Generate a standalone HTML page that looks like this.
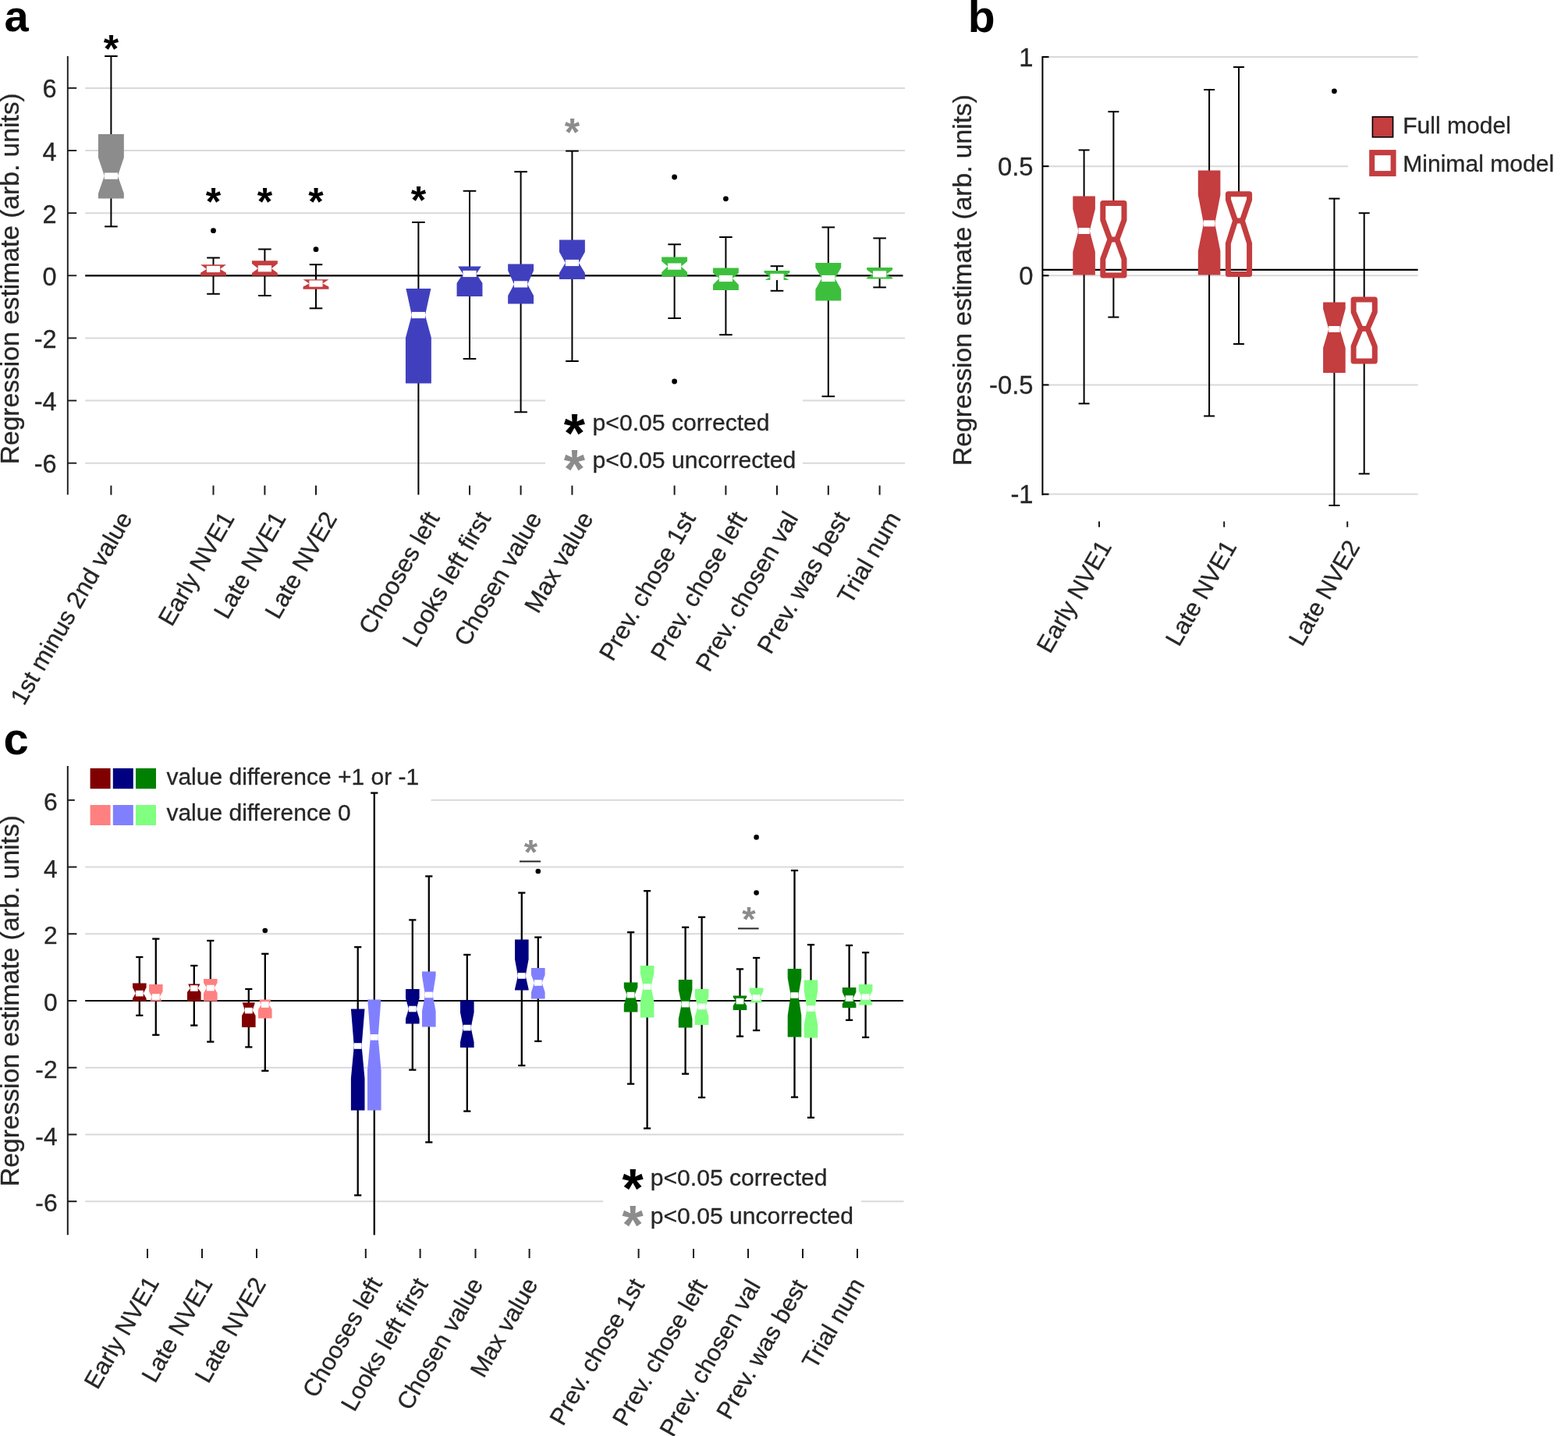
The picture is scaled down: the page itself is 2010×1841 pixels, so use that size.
<!DOCTYPE html>
<html lang="en">
<head>
<meta charset="utf-8">
<title>Regression estimates</title>
<style>
html,body{margin:0;padding:0;background:#fff;}
body{width:2010px;height:1841px;overflow:hidden;}
svg{display:block;}
text{font-family:"Liberation Sans",sans-serif;}
</style>
</head>
<body>
<svg width="2010" height="1841" viewBox="0 0 2010 1841" role="img" aria-label="Box plots of regression estimates, panels a, b and c">
<rect x="0" y="0" width="2010" height="1841" fill="#fff"/>
<g id="panel-a">
<line x1="109.20" y1="112.88" x2="1160.00" y2="112.88" stroke="#d9d9d9" stroke-width="2" />
<line x1="109.20" y1="193.02" x2="1160.00" y2="193.02" stroke="#d9d9d9" stroke-width="2" />
<line x1="109.20" y1="273.16" x2="1160.00" y2="273.16" stroke="#d9d9d9" stroke-width="2" />
<line x1="109.20" y1="433.44" x2="1160.00" y2="433.44" stroke="#d9d9d9" stroke-width="2" />
<line x1="109.20" y1="513.58" x2="1160.00" y2="513.58" stroke="#d9d9d9" stroke-width="2" />
<line x1="109.20" y1="593.72" x2="1160.00" y2="593.72" stroke="#d9d9d9" stroke-width="2" />
<rect x="699.00" y="500.00" width="330.00" height="120.00" fill="#fff" stroke="none" stroke-width="0" />
<line x1="109.20" y1="353.30" x2="1157.50" y2="353.30" stroke="#000" stroke-width="2.2" />
<line x1="86.80" y1="72.00" x2="86.80" y2="634.30" stroke="#1a1a1a" stroke-width="1.9" />
<line x1="86.80" y1="112.88" x2="98.20" y2="112.88" stroke="#1a1a1a" stroke-width="1.9" />
<text x="72.70" y="125.48" font-size="32.5" text-anchor="end" fill="#262626" font-weight="normal" stroke="#262626" stroke-width="0.3" >6</text>
<line x1="86.80" y1="193.02" x2="98.20" y2="193.02" stroke="#1a1a1a" stroke-width="1.9" />
<text x="72.70" y="205.62" font-size="32.5" text-anchor="end" fill="#262626" font-weight="normal" stroke="#262626" stroke-width="0.3" >4</text>
<line x1="86.80" y1="273.16" x2="98.20" y2="273.16" stroke="#1a1a1a" stroke-width="1.9" />
<text x="72.70" y="285.76" font-size="32.5" text-anchor="end" fill="#262626" font-weight="normal" stroke="#262626" stroke-width="0.3" >2</text>
<line x1="86.80" y1="353.30" x2="98.20" y2="353.30" stroke="#1a1a1a" stroke-width="1.9" />
<text x="72.70" y="365.90" font-size="32.5" text-anchor="end" fill="#262626" font-weight="normal" stroke="#262626" stroke-width="0.3" >0</text>
<line x1="86.80" y1="433.44" x2="98.20" y2="433.44" stroke="#1a1a1a" stroke-width="1.9" />
<text x="72.70" y="446.04" font-size="32.5" text-anchor="end" fill="#262626" font-weight="normal" stroke="#262626" stroke-width="0.3" >-2</text>
<line x1="86.80" y1="513.58" x2="98.20" y2="513.58" stroke="#1a1a1a" stroke-width="1.9" />
<text x="72.70" y="526.18" font-size="32.5" text-anchor="end" fill="#262626" font-weight="normal" stroke="#262626" stroke-width="0.3" >-4</text>
<line x1="86.80" y1="593.72" x2="98.20" y2="593.72" stroke="#1a1a1a" stroke-width="1.9" />
<text x="72.70" y="606.32" font-size="32.5" text-anchor="end" fill="#262626" font-weight="normal" stroke="#262626" stroke-width="0.3" >-6</text>
<text x="24.40" y="357.30" font-size="33.6" text-anchor="middle" fill="#262626" font-weight="normal" stroke="#262626" stroke-width="0.3" transform="rotate(-90 24.40 357.30)" >Regression estimate (arb. units)</text>
<text x="5.40" y="40.40" font-size="56" text-anchor="start" fill="#000" font-weight="bold" >a</text>
<line x1="142.40" y1="72.00" x2="142.40" y2="173.00" stroke="#000" stroke-width="2.0" />
<line x1="142.40" y1="253.40" x2="142.40" y2="290.40" stroke="#000" stroke-width="2.0" />
<line x1="134.10" y1="72.00" x2="150.70" y2="72.00" stroke="#000" stroke-width="2.0" />
<line x1="134.10" y1="290.40" x2="150.70" y2="290.40" stroke="#000" stroke-width="2.0" />
<polygon points="125.95,254.40 125.95,248.00 133.80,225.60 125.95,202.00 125.95,172.00 158.85,172.00 158.85,202.00 151.00,225.60 158.85,248.00 158.85,254.40" fill="#8c8c8c"/>
<rect x="133.80" y="221.50" width="17.20" height="8.20" fill="#fff" stroke="none" stroke-width="0" />
<line x1="273.50" y1="330.50" x2="273.50" y2="340.20" stroke="#000" stroke-width="2.0" />
<line x1="273.50" y1="352.60" x2="273.50" y2="376.80" stroke="#000" stroke-width="2.0" />
<line x1="265.20" y1="330.50" x2="281.80" y2="330.50" stroke="#000" stroke-width="2.0" />
<line x1="265.20" y1="376.80" x2="281.80" y2="376.80" stroke="#000" stroke-width="2.0" />
<polygon points="257.05,353.60 257.05,349.80 264.90,345.00 257.05,339.20 257.05,339.20 289.95,339.20 289.95,339.20 282.10,345.00 289.95,349.80 289.95,353.60" fill="#c43d3f"/>
<rect x="264.90" y="340.90" width="17.20" height="8.20" fill="#fff" stroke="none" stroke-width="0" />
<circle cx="273.50" cy="295.70" r="3.4" fill="#000"/>
<line x1="339.40" y1="319.50" x2="339.40" y2="335.20" stroke="#000" stroke-width="2.0" />
<line x1="339.40" y1="352.40" x2="339.40" y2="379.00" stroke="#000" stroke-width="2.0" />
<line x1="331.10" y1="319.50" x2="347.70" y2="319.50" stroke="#000" stroke-width="2.0" />
<line x1="331.10" y1="379.00" x2="347.70" y2="379.00" stroke="#000" stroke-width="2.0" />
<polygon points="322.95,353.40 322.95,350.00 330.80,344.30 322.95,338.00 322.95,334.20 355.85,334.20 355.85,338.00 348.00,344.30 355.85,350.00 355.85,353.40" fill="#c43d3f"/>
<rect x="330.80" y="340.20" width="17.20" height="8.20" fill="#fff" stroke="none" stroke-width="0" />
<line x1="405.00" y1="339.20" x2="405.00" y2="359.30" stroke="#000" stroke-width="2.0" />
<line x1="405.00" y1="369.80" x2="405.00" y2="395.30" stroke="#000" stroke-width="2.0" />
<line x1="396.70" y1="339.20" x2="413.30" y2="339.20" stroke="#000" stroke-width="2.0" />
<line x1="396.70" y1="395.30" x2="413.30" y2="395.30" stroke="#000" stroke-width="2.0" />
<polygon points="388.55,370.80 388.55,367.40 396.40,363.60 388.55,358.30 388.55,358.30 421.45,358.30 421.45,358.30 413.60,363.60 421.45,367.40 421.45,370.80" fill="#c43d3f"/>
<rect x="396.40" y="359.50" width="17.20" height="8.20" fill="#fff" stroke="none" stroke-width="0" />
<circle cx="405.00" cy="319.70" r="3.4" fill="#000"/>
<line x1="536.40" y1="285.00" x2="536.40" y2="371.00" stroke="#000" stroke-width="2.0" />
<line x1="536.40" y1="490.40" x2="536.40" y2="634.30" stroke="#000" stroke-width="2.0" />
<line x1="528.10" y1="285.00" x2="544.70" y2="285.00" stroke="#000" stroke-width="2.0" />
<polygon points="519.95,491.40 519.95,433.00 527.80,404.00 520.39,370.00 552.41,370.00 545.00,404.00 552.85,433.00 552.85,491.40" fill="#4040bf"/>
<rect x="527.80" y="399.90" width="17.20" height="8.20" fill="#fff" stroke="none" stroke-width="0" />
<line x1="602.00" y1="244.80" x2="602.00" y2="342.40" stroke="#000" stroke-width="2.0" />
<line x1="602.00" y1="379.00" x2="602.00" y2="460.00" stroke="#000" stroke-width="2.0" />
<line x1="593.70" y1="244.80" x2="610.30" y2="244.80" stroke="#000" stroke-width="2.0" />
<line x1="593.70" y1="460.00" x2="610.30" y2="460.00" stroke="#000" stroke-width="2.0" />
<polygon points="585.55,380.00 585.55,363.00 593.40,351.00 587.12,341.40 616.88,341.40 610.60,351.00 618.45,363.00 618.45,380.00" fill="#4040bf"/>
<rect x="593.40" y="346.90" width="17.20" height="8.20" fill="#fff" stroke="none" stroke-width="0" />
<line x1="667.60" y1="220.20" x2="667.60" y2="339.60" stroke="#000" stroke-width="2.0" />
<line x1="667.60" y1="388.60" x2="667.60" y2="528.30" stroke="#000" stroke-width="2.0" />
<line x1="659.30" y1="220.20" x2="675.90" y2="220.20" stroke="#000" stroke-width="2.0" />
<line x1="659.30" y1="528.30" x2="675.90" y2="528.30" stroke="#000" stroke-width="2.0" />
<polygon points="651.15,389.60 651.15,379.00 659.00,364.40 651.15,347.00 651.15,338.60 684.05,338.60 684.05,347.00 676.20,364.40 684.05,379.00 684.05,389.60" fill="#4040bf"/>
<rect x="659.00" y="360.30" width="17.20" height="8.20" fill="#fff" stroke="none" stroke-width="0" />
<line x1="733.40" y1="193.60" x2="733.40" y2="308.60" stroke="#000" stroke-width="2.0" />
<line x1="733.40" y1="357.00" x2="733.40" y2="463.00" stroke="#000" stroke-width="2.0" />
<line x1="725.10" y1="193.60" x2="741.70" y2="193.60" stroke="#000" stroke-width="2.0" />
<line x1="725.10" y1="463.00" x2="741.70" y2="463.00" stroke="#000" stroke-width="2.0" />
<polygon points="716.95,358.00 716.95,350.00 724.80,337.00 716.95,323.00 716.95,307.60 749.85,307.60 749.85,323.00 742.00,337.00 749.85,350.00 749.85,358.00" fill="#4040bf"/>
<rect x="724.80" y="332.90" width="17.20" height="8.20" fill="#fff" stroke="none" stroke-width="0" />
<line x1="864.60" y1="313.30" x2="864.60" y2="330.40" stroke="#000" stroke-width="2.0" />
<line x1="864.60" y1="353.40" x2="864.60" y2="408.00" stroke="#000" stroke-width="2.0" />
<line x1="856.30" y1="313.30" x2="872.90" y2="313.30" stroke="#000" stroke-width="2.0" />
<line x1="856.30" y1="408.00" x2="872.90" y2="408.00" stroke="#000" stroke-width="2.0" />
<polygon points="848.15,354.40 848.15,349.00 856.00,341.60 848.15,335.00 848.15,329.40 881.05,329.40 881.05,335.00 873.20,341.60 881.05,349.00 881.05,354.40" fill="#3dbf3d"/>
<rect x="856.00" y="337.50" width="17.20" height="8.20" fill="#fff" stroke="none" stroke-width="0" />
<circle cx="864.60" cy="227.00" r="3.4" fill="#000"/>
<circle cx="864.60" cy="489.00" r="3.4" fill="#000"/>
<line x1="930.40" y1="304.00" x2="930.40" y2="344.60" stroke="#000" stroke-width="2.0" />
<line x1="930.40" y1="371.00" x2="930.40" y2="429.20" stroke="#000" stroke-width="2.0" />
<line x1="922.10" y1="304.00" x2="938.70" y2="304.00" stroke="#000" stroke-width="2.0" />
<line x1="922.10" y1="429.20" x2="938.70" y2="429.20" stroke="#000" stroke-width="2.0" />
<polygon points="913.95,372.00 913.95,365.00 921.80,357.00 913.95,350.00 913.95,343.60 946.85,343.60 946.85,350.00 939.00,357.00 946.85,365.00 946.85,372.00" fill="#3dbf3d"/>
<rect x="921.80" y="352.90" width="17.20" height="8.20" fill="#fff" stroke="none" stroke-width="0" />
<circle cx="930.40" cy="254.80" r="3.4" fill="#000"/>
<line x1="996.00" y1="341.20" x2="996.00" y2="348.00" stroke="#000" stroke-width="2.0" />
<line x1="996.00" y1="358.00" x2="996.00" y2="372.80" stroke="#000" stroke-width="2.0" />
<line x1="987.70" y1="341.20" x2="1004.30" y2="341.20" stroke="#000" stroke-width="2.0" />
<line x1="987.70" y1="372.80" x2="1004.30" y2="372.80" stroke="#000" stroke-width="2.0" />
<polygon points="980.57,359.00 987.40,355.00 979.55,349.60 979.55,347.00 1012.45,347.00 1012.45,349.60 1004.60,355.00 1011.43,359.00" fill="#3dbf3d"/>
<rect x="987.40" y="350.90" width="17.20" height="8.20" fill="#fff" stroke="none" stroke-width="0" />
<line x1="1061.80" y1="291.40" x2="1061.80" y2="338.00" stroke="#000" stroke-width="2.0" />
<line x1="1061.80" y1="384.40" x2="1061.80" y2="508.20" stroke="#000" stroke-width="2.0" />
<line x1="1053.50" y1="291.40" x2="1070.10" y2="291.40" stroke="#000" stroke-width="2.0" />
<line x1="1053.50" y1="508.20" x2="1070.10" y2="508.20" stroke="#000" stroke-width="2.0" />
<polygon points="1045.35,385.40 1045.35,371.00 1053.20,357.00 1045.35,343.00 1045.35,337.00 1078.25,337.00 1078.25,343.00 1070.40,357.00 1078.25,371.00 1078.25,385.40" fill="#3dbf3d"/>
<rect x="1053.20" y="352.90" width="17.20" height="8.20" fill="#fff" stroke="none" stroke-width="0" />
<line x1="1127.60" y1="305.40" x2="1127.60" y2="344.00" stroke="#000" stroke-width="2.0" />
<line x1="1127.60" y1="356.60" x2="1127.60" y2="368.40" stroke="#000" stroke-width="2.0" />
<line x1="1119.30" y1="305.40" x2="1135.90" y2="305.40" stroke="#000" stroke-width="2.0" />
<line x1="1119.30" y1="368.40" x2="1135.90" y2="368.40" stroke="#000" stroke-width="2.0" />
<polygon points="1111.15,357.60 1111.15,356.00 1119.00,351.40 1111.15,346.00 1111.15,343.00 1144.05,343.00 1144.05,346.00 1136.20,351.40 1144.05,356.00 1144.05,357.60" fill="#3dbf3d"/>
<rect x="1119.00" y="347.30" width="17.20" height="8.20" fill="#fff" stroke="none" stroke-width="0" />
<text x="142.40" y="79.70" font-size="50" text-anchor="middle" fill="#000" font-weight="bold" >*</text>
<text x="273.50" y="275.70" font-size="50" text-anchor="middle" fill="#000" font-weight="bold" >*</text>
<text x="339.40" y="275.70" font-size="50" text-anchor="middle" fill="#000" font-weight="bold" >*</text>
<text x="405.00" y="275.70" font-size="50" text-anchor="middle" fill="#000" font-weight="bold" >*</text>
<text x="536.40" y="273.70" font-size="50" text-anchor="middle" fill="#000" font-weight="bold" >*</text>
<text x="733.40" y="187.10" font-size="50" text-anchor="middle" fill="#8c8c8c" font-weight="bold" >*</text>
<text x="736.30" y="579.90" font-size="70" text-anchor="middle" fill="#000" font-weight="bold" >*</text>
<text x="759.60" y="551.60" font-size="30.15" text-anchor="start" fill="#262626" font-weight="normal" stroke="#262626" stroke-width="0.3" >p&lt;0.05 corrected</text>
<text x="736.30" y="626.20" font-size="70" text-anchor="middle" fill="#8c8c8c" font-weight="bold" >*</text>
<text x="759.60" y="600.40" font-size="30.15" text-anchor="start" fill="#262626" font-weight="normal" stroke="#262626" stroke-width="0.3" >p&lt;0.05 uncorrected</text>
<line x1="142.40" y1="622.50" x2="142.40" y2="634.50" stroke="#1a1a1a" stroke-width="2" />
<text x="170.40" y="664.00" font-size="31.4" text-anchor="end" fill="#262626" font-weight="normal" stroke="#262626" stroke-width="0.3" transform="rotate(-60 170.40 664.00)" >1st minus 2nd value</text>
<line x1="273.50" y1="622.50" x2="273.50" y2="634.50" stroke="#1a1a1a" stroke-width="2" />
<text x="301.50" y="664.00" font-size="31.4" text-anchor="end" fill="#262626" font-weight="normal" stroke="#262626" stroke-width="0.3" transform="rotate(-60 301.50 664.00)" >Early NVE1</text>
<line x1="339.40" y1="622.50" x2="339.40" y2="634.50" stroke="#1a1a1a" stroke-width="2" />
<text x="367.40" y="664.00" font-size="31.4" text-anchor="end" fill="#262626" font-weight="normal" stroke="#262626" stroke-width="0.3" transform="rotate(-60 367.40 664.00)" >Late NVE1</text>
<line x1="405.00" y1="622.50" x2="405.00" y2="634.50" stroke="#1a1a1a" stroke-width="2" />
<text x="433.00" y="664.00" font-size="31.4" text-anchor="end" fill="#262626" font-weight="normal" stroke="#262626" stroke-width="0.3" transform="rotate(-60 433.00 664.00)" >Late NVE2</text>
<text x="564.40" y="664.00" font-size="31.4" text-anchor="end" fill="#262626" font-weight="normal" stroke="#262626" stroke-width="0.3" transform="rotate(-60 564.40 664.00)" >Chooses left</text>
<line x1="602.00" y1="622.50" x2="602.00" y2="634.50" stroke="#1a1a1a" stroke-width="2" />
<text x="630.00" y="664.00" font-size="31.4" text-anchor="end" fill="#262626" font-weight="normal" stroke="#262626" stroke-width="0.3" transform="rotate(-60 630.00 664.00)" >Looks left first</text>
<line x1="667.60" y1="622.50" x2="667.60" y2="634.50" stroke="#1a1a1a" stroke-width="2" />
<text x="695.60" y="664.00" font-size="31.4" text-anchor="end" fill="#262626" font-weight="normal" stroke="#262626" stroke-width="0.3" transform="rotate(-60 695.60 664.00)" >Chosen value</text>
<line x1="733.40" y1="622.50" x2="733.40" y2="634.50" stroke="#1a1a1a" stroke-width="2" />
<text x="761.40" y="664.00" font-size="31.4" text-anchor="end" fill="#262626" font-weight="normal" stroke="#262626" stroke-width="0.3" transform="rotate(-60 761.40 664.00)" >Max value</text>
<line x1="864.60" y1="622.50" x2="864.60" y2="634.50" stroke="#1a1a1a" stroke-width="2" />
<text x="892.60" y="664.00" font-size="31.4" text-anchor="end" fill="#262626" font-weight="normal" stroke="#262626" stroke-width="0.3" transform="rotate(-60 892.60 664.00)" >Prev. chose 1st</text>
<line x1="930.40" y1="622.50" x2="930.40" y2="634.50" stroke="#1a1a1a" stroke-width="2" />
<text x="958.40" y="664.00" font-size="31.4" text-anchor="end" fill="#262626" font-weight="normal" stroke="#262626" stroke-width="0.3" transform="rotate(-60 958.40 664.00)" >Prev. chose left</text>
<line x1="996.00" y1="622.50" x2="996.00" y2="634.50" stroke="#1a1a1a" stroke-width="2" />
<text x="1024.00" y="664.00" font-size="31.4" text-anchor="end" fill="#262626" font-weight="normal" stroke="#262626" stroke-width="0.3" transform="rotate(-60 1024.00 664.00)" >Prev. chosen val</text>
<line x1="1061.80" y1="622.50" x2="1061.80" y2="634.50" stroke="#1a1a1a" stroke-width="2" />
<text x="1089.80" y="664.00" font-size="31.4" text-anchor="end" fill="#262626" font-weight="normal" stroke="#262626" stroke-width="0.3" transform="rotate(-60 1089.80 664.00)" >Prev. was best</text>
<line x1="1127.60" y1="622.50" x2="1127.60" y2="634.50" stroke="#1a1a1a" stroke-width="2" />
<text x="1155.60" y="664.00" font-size="31.4" text-anchor="end" fill="#262626" font-weight="normal" stroke="#262626" stroke-width="0.3" transform="rotate(-60 1155.60 664.00)" >Trial num</text>
</g>
<g id="panel-b">
<line x1="1336.40" y1="73.00" x2="1817.60" y2="73.00" stroke="#d9d9d9" stroke-width="2" />
<line x1="1336.40" y1="213.15" x2="1817.60" y2="213.15" stroke="#d9d9d9" stroke-width="2" />
<line x1="1336.40" y1="353.30" x2="1817.60" y2="353.30" stroke="#d9d9d9" stroke-width="2" />
<line x1="1336.40" y1="493.45" x2="1817.60" y2="493.45" stroke="#d9d9d9" stroke-width="2" />
<line x1="1336.40" y1="633.60" x2="1817.60" y2="633.60" stroke="#d9d9d9" stroke-width="2" />
<rect x="1728.00" y="130.00" width="100.00" height="110.00" fill="#fff" stroke="none" stroke-width="0" />
<line x1="1336.40" y1="345.80" x2="1817.60" y2="345.80" stroke="#000" stroke-width="2.2" />
<line x1="1336.40" y1="72.00" x2="1336.40" y2="635.00" stroke="#000" stroke-width="2" />
<line x1="1336.40" y1="73.00" x2="1344.50" y2="73.00" stroke="#000" stroke-width="2" />
<text x="1324.60" y="84.80" font-size="32.8" text-anchor="end" fill="#262626" font-weight="normal" stroke="#262626" stroke-width="0.3" >1</text>
<line x1="1336.40" y1="213.15" x2="1344.50" y2="213.15" stroke="#000" stroke-width="2" />
<text x="1324.60" y="224.95" font-size="32.8" text-anchor="end" fill="#262626" font-weight="normal" stroke="#262626" stroke-width="0.3" >0.5</text>
<line x1="1336.40" y1="353.30" x2="1344.50" y2="353.30" stroke="#000" stroke-width="2" />
<text x="1324.60" y="365.10" font-size="32.8" text-anchor="end" fill="#262626" font-weight="normal" stroke="#262626" stroke-width="0.3" >0</text>
<line x1="1336.40" y1="493.45" x2="1344.50" y2="493.45" stroke="#000" stroke-width="2" />
<text x="1324.60" y="505.25" font-size="32.8" text-anchor="end" fill="#262626" font-weight="normal" stroke="#262626" stroke-width="0.3" >-0.5</text>
<line x1="1336.40" y1="633.60" x2="1344.50" y2="633.60" stroke="#000" stroke-width="2" />
<text x="1324.60" y="645.40" font-size="32.8" text-anchor="end" fill="#262626" font-weight="normal" stroke="#262626" stroke-width="0.3" >-1</text>
<text x="1244.50" y="359.00" font-size="33.6" text-anchor="middle" fill="#262626" font-weight="normal" stroke="#262626" stroke-width="0.3" transform="rotate(-90 1244.50 359.00)" >Regression estimate (arb. units)</text>
<text x="1240.70" y="41.00" font-size="57" text-anchor="start" fill="#000" font-weight="bold" >b</text>
<line x1="1389.60" y1="192.40" x2="1389.60" y2="252.40" stroke="#000" stroke-width="2.0" />
<line x1="1389.60" y1="351.40" x2="1389.60" y2="517.40" stroke="#000" stroke-width="2.0" />
<line x1="1382.60" y1="192.40" x2="1396.60" y2="192.40" stroke="#000" stroke-width="2.0" />
<line x1="1382.60" y1="517.40" x2="1396.60" y2="517.40" stroke="#000" stroke-width="2.0" />
<polygon points="1375.30,352.40 1375.30,323.00 1382.40,296.00 1375.30,268.00 1375.30,251.40 1403.90,251.40 1403.90,268.00 1396.80,296.00 1403.90,323.00 1403.90,352.40" fill="#c43d3f"/>
<rect x="1382.40" y="292.00" width="14.40" height="8.00" fill="#fff" stroke="none" stroke-width="0" />
<line x1="1550.10" y1="115.00" x2="1550.10" y2="219.40" stroke="#000" stroke-width="2.0" />
<line x1="1550.10" y1="351.40" x2="1550.10" y2="533.40" stroke="#000" stroke-width="2.0" />
<line x1="1543.10" y1="115.00" x2="1557.10" y2="115.00" stroke="#000" stroke-width="2.0" />
<line x1="1543.10" y1="533.40" x2="1557.10" y2="533.40" stroke="#000" stroke-width="2.0" />
<polygon points="1535.80,352.40 1535.80,322.00 1542.90,286.40 1535.80,250.00 1535.80,218.40 1564.40,218.40 1564.40,250.00 1557.30,286.40 1564.40,322.00 1564.40,352.40" fill="#c43d3f"/>
<rect x="1542.90" y="282.40" width="14.40" height="8.00" fill="#fff" stroke="none" stroke-width="0" />
<line x1="1710.40" y1="254.60" x2="1710.40" y2="388.60" stroke="#000" stroke-width="2.0" />
<line x1="1710.40" y1="477.00" x2="1710.40" y2="648.00" stroke="#000" stroke-width="2.0" />
<line x1="1703.40" y1="254.60" x2="1717.40" y2="254.60" stroke="#000" stroke-width="2.0" />
<line x1="1703.40" y1="648.00" x2="1717.40" y2="648.00" stroke="#000" stroke-width="2.0" />
<polygon points="1696.10,478.00 1696.10,446.00 1703.20,422.00 1696.10,396.00 1696.10,387.60 1724.70,387.60 1724.70,396.00 1717.60,422.00 1724.70,446.00 1724.70,478.00" fill="#c43d3f"/>
<rect x="1703.20" y="418.00" width="14.40" height="8.00" fill="#fff" stroke="none" stroke-width="0" />
<circle cx="1710.40" cy="116.80" r="3.4" fill="#000"/>
<line x1="1427.40" y1="143.20" x2="1427.40" y2="258.50" stroke="#000" stroke-width="2.0" />
<line x1="1427.40" y1="355.00" x2="1427.40" y2="406.60" stroke="#000" stroke-width="2.0" />
<line x1="1420.40" y1="143.20" x2="1434.40" y2="143.20" stroke="#000" stroke-width="2.0" />
<line x1="1420.40" y1="406.60" x2="1434.40" y2="406.60" stroke="#000" stroke-width="2.0" />
<polygon points="1413.80,353.00 1413.80,332.00 1423.00,307.00 1413.80,282.00 1413.80,260.50 1441.00,260.50 1441.00,282.00 1431.80,307.00 1441.00,332.00 1441.00,353.00" fill="none" stroke="#c43d3f" stroke-width="7" stroke-linejoin="round"/>
<line x1="1423.00" y1="307.00" x2="1431.80" y2="307.00" stroke="#c43d3f" stroke-width="7" />
<line x1="1588.00" y1="86.00" x2="1588.00" y2="246.70" stroke="#000" stroke-width="2.0" />
<line x1="1588.00" y1="353.50" x2="1588.00" y2="441.00" stroke="#000" stroke-width="2.0" />
<line x1="1581.00" y1="86.00" x2="1595.00" y2="86.00" stroke="#000" stroke-width="2.0" />
<line x1="1581.00" y1="441.00" x2="1595.00" y2="441.00" stroke="#000" stroke-width="2.0" />
<polygon points="1574.40,351.50 1574.40,312.00 1583.60,283.00 1574.40,256.00 1574.40,248.70 1601.60,248.70 1601.60,256.00 1592.40,283.00 1601.60,312.00 1601.60,351.50" fill="none" stroke="#c43d3f" stroke-width="7" stroke-linejoin="round"/>
<line x1="1583.60" y1="283.00" x2="1592.40" y2="283.00" stroke="#c43d3f" stroke-width="7" />
<line x1="1748.70" y1="273.20" x2="1748.70" y2="382.10" stroke="#000" stroke-width="2.0" />
<line x1="1748.70" y1="465.10" x2="1748.70" y2="607.40" stroke="#000" stroke-width="2.0" />
<line x1="1741.70" y1="273.20" x2="1755.70" y2="273.20" stroke="#000" stroke-width="2.0" />
<line x1="1741.70" y1="607.40" x2="1755.70" y2="607.40" stroke="#000" stroke-width="2.0" />
<polygon points="1735.10,463.10 1735.10,444.00 1744.30,421.40 1735.10,400.00 1735.10,384.10 1762.30,384.10 1762.30,400.00 1753.10,421.40 1762.30,444.00 1762.30,463.10" fill="none" stroke="#c43d3f" stroke-width="7" stroke-linejoin="round"/>
<line x1="1744.30" y1="421.40" x2="1753.10" y2="421.40" stroke="#c43d3f" stroke-width="7" />
<rect x="1759.40" y="149.80" width="26.20" height="26.00" fill="#c43d3f" stroke="#000" stroke-width="1.6" />
<text x="1798.20" y="170.80" font-size="30.1" text-anchor="start" fill="#262626" font-weight="normal" stroke="#262626" stroke-width="0.3" >Full model</text>
<rect x="1758.70" y="195.60" width="27.40" height="27.00" fill="#fff" stroke="#c43d3f" stroke-width="7" />
<text x="1798.20" y="219.60" font-size="30.1" text-anchor="start" fill="#262626" font-weight="normal" stroke="#262626" stroke-width="0.3" >Minimal model</text>
<line x1="1409.00" y1="668.50" x2="1409.00" y2="675.80" stroke="#1a1a1a" stroke-width="2" />
<text x="1426.00" y="700.50" font-size="31" text-anchor="end" fill="#262626" font-weight="normal" stroke="#262626" stroke-width="0.3" transform="rotate(-60 1426.00 700.50)" >Early NVE1</text>
<line x1="1569.20" y1="668.50" x2="1569.20" y2="675.80" stroke="#1a1a1a" stroke-width="2" />
<text x="1586.20" y="700.50" font-size="31" text-anchor="end" fill="#262626" font-weight="normal" stroke="#262626" stroke-width="0.3" transform="rotate(-60 1586.20 700.50)" >Late NVE1</text>
<line x1="1727.20" y1="668.50" x2="1727.20" y2="675.80" stroke="#1a1a1a" stroke-width="2" />
<text x="1744.20" y="700.50" font-size="31" text-anchor="end" fill="#262626" font-weight="normal" stroke="#262626" stroke-width="0.3" transform="rotate(-60 1744.20 700.50)" >Late NVE2</text>
</g>
<g id="panel-c">
<line x1="109.20" y1="1025.78" x2="1158.50" y2="1025.78" stroke="#d9d9d9" stroke-width="2" />
<line x1="109.20" y1="1111.52" x2="1158.50" y2="1111.52" stroke="#d9d9d9" stroke-width="2" />
<line x1="109.20" y1="1197.26" x2="1158.50" y2="1197.26" stroke="#d9d9d9" stroke-width="2" />
<line x1="109.20" y1="1368.74" x2="1158.50" y2="1368.74" stroke="#d9d9d9" stroke-width="2" />
<line x1="109.20" y1="1454.48" x2="1158.50" y2="1454.48" stroke="#d9d9d9" stroke-width="2" />
<line x1="109.20" y1="1540.22" x2="1158.50" y2="1540.22" stroke="#d9d9d9" stroke-width="2" />
<rect x="100.00" y="980.00" width="452.50" height="85.00" fill="#fff" stroke="none" stroke-width="0" />
<rect x="773.00" y="1490.00" width="331.00" height="100.00" fill="#fff" stroke="none" stroke-width="0" />
<line x1="109.20" y1="1283.00" x2="1158.00" y2="1283.00" stroke="#000" stroke-width="2.2" />
<line x1="86.80" y1="982.00" x2="86.80" y2="1583.30" stroke="#1a1a1a" stroke-width="2" />
<line x1="86.80" y1="1025.78" x2="95.80" y2="1025.78" stroke="#1a1a1a" stroke-width="2" />
<text x="73.60" y="1038.98" font-size="31.8" text-anchor="end" fill="#262626" font-weight="normal" stroke="#262626" stroke-width="0.3" >6</text>
<line x1="86.80" y1="1111.52" x2="98.40" y2="1111.52" stroke="#1a1a1a" stroke-width="2" />
<text x="73.60" y="1124.72" font-size="31.8" text-anchor="end" fill="#262626" font-weight="normal" stroke="#262626" stroke-width="0.3" >4</text>
<line x1="86.80" y1="1197.26" x2="98.40" y2="1197.26" stroke="#1a1a1a" stroke-width="2" />
<text x="73.60" y="1210.46" font-size="31.8" text-anchor="end" fill="#262626" font-weight="normal" stroke="#262626" stroke-width="0.3" >2</text>
<line x1="86.80" y1="1283.00" x2="98.40" y2="1283.00" stroke="#1a1a1a" stroke-width="2" />
<text x="73.60" y="1296.20" font-size="31.8" text-anchor="end" fill="#262626" font-weight="normal" stroke="#262626" stroke-width="0.3" >0</text>
<line x1="86.80" y1="1368.74" x2="98.40" y2="1368.74" stroke="#1a1a1a" stroke-width="2" />
<text x="73.60" y="1381.94" font-size="31.8" text-anchor="end" fill="#262626" font-weight="normal" stroke="#262626" stroke-width="0.3" >-2</text>
<line x1="86.80" y1="1454.48" x2="98.40" y2="1454.48" stroke="#1a1a1a" stroke-width="2" />
<text x="73.60" y="1467.68" font-size="31.8" text-anchor="end" fill="#262626" font-weight="normal" stroke="#262626" stroke-width="0.3" >-4</text>
<line x1="86.80" y1="1540.22" x2="98.40" y2="1540.22" stroke="#1a1a1a" stroke-width="2" />
<text x="73.60" y="1553.42" font-size="31.8" text-anchor="end" fill="#262626" font-weight="normal" stroke="#262626" stroke-width="0.3" >-6</text>
<text x="24.40" y="1283.00" font-size="33.6" text-anchor="middle" fill="#262626" font-weight="normal" stroke="#262626" stroke-width="0.3" transform="rotate(-90 24.40 1283.00)" >Regression estimate (arb. units)</text>
<text x="4.60" y="967.30" font-size="58" text-anchor="start" fill="#000" font-weight="bold" >c</text>
<line x1="178.80" y1="1227.00" x2="178.80" y2="1261.40" stroke="#000" stroke-width="2.3" />
<line x1="178.80" y1="1282.40" x2="178.80" y2="1301.80" stroke="#000" stroke-width="2.3" />
<line x1="174.20" y1="1227.00" x2="183.40" y2="1227.00" stroke="#000" stroke-width="2.3" />
<line x1="174.20" y1="1301.80" x2="183.40" y2="1301.80" stroke="#000" stroke-width="2.3" />
<polygon points="170.00,1283.40 170.00,1280.00 173.90,1273.60 170.00,1266.00 170.00,1260.40 187.60,1260.40 187.60,1266.00 183.70,1273.60 187.60,1280.00 187.60,1283.40" fill="#800000"/>
<rect x="173.90" y="1269.80" width="9.80" height="7.60" fill="#fff" stroke="none" stroke-width="0" />
<line x1="199.80" y1="1203.60" x2="199.80" y2="1263.00" stroke="#000" stroke-width="2.3" />
<line x1="199.80" y1="1282.40" x2="199.80" y2="1326.80" stroke="#000" stroke-width="2.3" />
<line x1="195.20" y1="1203.60" x2="204.40" y2="1203.60" stroke="#000" stroke-width="2.3" />
<line x1="195.20" y1="1326.80" x2="204.40" y2="1326.80" stroke="#000" stroke-width="2.3" />
<polygon points="192.27,1283.40 194.90,1278.00 191.00,1271.00 191.00,1262.00 208.60,1262.00 208.60,1271.00 204.70,1278.00 207.33,1283.40" fill="#ff8080"/>
<rect x="194.90" y="1274.20" width="9.80" height="7.60" fill="#fff" stroke="none" stroke-width="0" />
<line x1="248.80" y1="1238.00" x2="248.80" y2="1262.40" stroke="#000" stroke-width="2.3" />
<line x1="248.80" y1="1282.40" x2="248.80" y2="1314.60" stroke="#000" stroke-width="2.3" />
<line x1="244.20" y1="1238.00" x2="253.40" y2="1238.00" stroke="#000" stroke-width="2.3" />
<line x1="244.20" y1="1314.60" x2="253.40" y2="1314.60" stroke="#000" stroke-width="2.3" />
<polygon points="240.00,1283.40 240.00,1272.00 243.90,1267.00 241.17,1261.40 256.43,1261.40 253.70,1267.00 257.60,1272.00 257.60,1283.40" fill="#800000"/>
<rect x="243.90" y="1263.20" width="9.80" height="7.60" fill="#fff" stroke="none" stroke-width="0" />
<line x1="269.80" y1="1206.00" x2="269.80" y2="1256.00" stroke="#000" stroke-width="2.3" />
<line x1="269.80" y1="1282.40" x2="269.80" y2="1335.60" stroke="#000" stroke-width="2.3" />
<line x1="265.20" y1="1206.00" x2="274.40" y2="1206.00" stroke="#000" stroke-width="2.3" />
<line x1="265.20" y1="1335.60" x2="274.40" y2="1335.60" stroke="#000" stroke-width="2.3" />
<polygon points="261.00,1283.40 261.00,1273.00 264.90,1266.60 261.00,1260.00 261.00,1255.00 278.60,1255.00 278.60,1260.00 274.70,1266.60 278.60,1273.00 278.60,1283.40" fill="#ff8080"/>
<rect x="264.90" y="1262.80" width="9.80" height="7.60" fill="#fff" stroke="none" stroke-width="0" />
<line x1="318.80" y1="1268.00" x2="318.80" y2="1286.20" stroke="#000" stroke-width="2.3" />
<line x1="318.80" y1="1316.00" x2="318.80" y2="1342.40" stroke="#000" stroke-width="2.3" />
<line x1="314.20" y1="1268.00" x2="323.40" y2="1268.00" stroke="#000" stroke-width="2.3" />
<line x1="314.20" y1="1342.40" x2="323.40" y2="1342.40" stroke="#000" stroke-width="2.3" />
<polygon points="310.00,1317.00 310.00,1302.00 313.90,1295.60 310.68,1285.20 326.92,1285.20 323.70,1295.60 327.60,1302.00 327.60,1317.00" fill="#800000"/>
<rect x="313.90" y="1291.80" width="9.80" height="7.60" fill="#fff" stroke="none" stroke-width="0" />
<line x1="339.80" y1="1222.80" x2="339.80" y2="1282.40" stroke="#000" stroke-width="2.3" />
<line x1="339.80" y1="1304.40" x2="339.80" y2="1372.80" stroke="#000" stroke-width="2.3" />
<line x1="335.20" y1="1222.80" x2="344.40" y2="1222.80" stroke="#000" stroke-width="2.3" />
<line x1="335.20" y1="1372.80" x2="344.40" y2="1372.80" stroke="#000" stroke-width="2.3" />
<polygon points="331.00,1305.40 331.00,1294.00 334.90,1288.00 332.04,1281.40 347.56,1281.40 344.70,1288.00 348.60,1294.00 348.60,1305.40" fill="#ff8080"/>
<rect x="334.90" y="1284.20" width="9.80" height="7.60" fill="#fff" stroke="none" stroke-width="0" />
<circle cx="339.80" cy="1193.00" r="3.3" fill="#000"/>
<line x1="458.70" y1="1214.20" x2="458.70" y2="1294.60" stroke="#000" stroke-width="2.3" />
<line x1="458.70" y1="1422.60" x2="458.70" y2="1532.40" stroke="#000" stroke-width="2.3" />
<line x1="454.10" y1="1214.20" x2="463.30" y2="1214.20" stroke="#000" stroke-width="2.3" />
<line x1="454.10" y1="1532.40" x2="463.30" y2="1532.40" stroke="#000" stroke-width="2.3" />
<polygon points="449.90,1423.60 449.90,1382.50 453.80,1341.00 449.90,1293.60 449.90,1293.60 467.50,1293.60 467.50,1293.60 463.60,1341.00 467.50,1382.50 467.50,1423.60" fill="#000080"/>
<rect x="453.80" y="1337.20" width="9.80" height="7.60" fill="#fff" stroke="none" stroke-width="0" />
<line x1="479.80" y1="1016.60" x2="479.80" y2="1282.50" stroke="#000" stroke-width="2.3" />
<line x1="479.80" y1="1422.60" x2="479.80" y2="1583.30" stroke="#000" stroke-width="2.3" />
<line x1="475.20" y1="1016.60" x2="484.40" y2="1016.60" stroke="#000" stroke-width="2.3" />
<polygon points="471.00,1423.60 471.00,1372.50 474.90,1329.80 471.19,1281.50 488.41,1281.50 484.70,1329.80 488.60,1372.50 488.60,1423.60" fill="#8080ff"/>
<rect x="474.90" y="1326.00" width="9.80" height="7.60" fill="#fff" stroke="none" stroke-width="0" />
<line x1="528.80" y1="1179.40" x2="528.80" y2="1269.00" stroke="#000" stroke-width="2.3" />
<line x1="528.80" y1="1311.50" x2="528.80" y2="1371.60" stroke="#000" stroke-width="2.3" />
<line x1="524.20" y1="1179.40" x2="533.40" y2="1179.40" stroke="#000" stroke-width="2.3" />
<line x1="524.20" y1="1371.60" x2="533.40" y2="1371.60" stroke="#000" stroke-width="2.3" />
<polygon points="520.00,1312.50 520.00,1306.00 523.90,1293.50 520.00,1280.00 520.00,1268.00 537.60,1268.00 537.60,1280.00 533.70,1293.50 537.60,1306.00 537.60,1312.50" fill="#000080"/>
<rect x="523.90" y="1289.70" width="9.80" height="7.60" fill="#fff" stroke="none" stroke-width="0" />
<line x1="549.80" y1="1123.40" x2="549.80" y2="1246.60" stroke="#000" stroke-width="2.3" />
<line x1="549.80" y1="1315.50" x2="549.80" y2="1464.40" stroke="#000" stroke-width="2.3" />
<line x1="545.20" y1="1123.40" x2="554.40" y2="1123.40" stroke="#000" stroke-width="2.3" />
<line x1="545.20" y1="1464.40" x2="554.40" y2="1464.40" stroke="#000" stroke-width="2.3" />
<polygon points="541.00,1316.50 541.00,1296.50 544.90,1275.40 541.00,1251.00 541.00,1245.60 558.60,1245.60 558.60,1251.00 554.70,1275.40 558.60,1296.50 558.60,1316.50" fill="#8080ff"/>
<rect x="544.90" y="1271.60" width="9.80" height="7.60" fill="#fff" stroke="none" stroke-width="0" />
<line x1="598.80" y1="1224.00" x2="598.80" y2="1283.60" stroke="#000" stroke-width="2.3" />
<line x1="598.80" y1="1342.10" x2="598.80" y2="1424.60" stroke="#000" stroke-width="2.3" />
<line x1="594.20" y1="1224.00" x2="603.40" y2="1224.00" stroke="#000" stroke-width="2.3" />
<line x1="594.20" y1="1424.60" x2="603.40" y2="1424.60" stroke="#000" stroke-width="2.3" />
<polygon points="590.00,1343.10 590.00,1336.00 593.90,1317.60 590.00,1298.00 590.00,1282.60 607.60,1282.60 607.60,1298.00 603.70,1317.60 607.60,1336.00 607.60,1343.10" fill="#000080"/>
<rect x="593.90" y="1313.80" width="9.80" height="7.60" fill="#fff" stroke="none" stroke-width="0" />
<line x1="668.80" y1="1144.60" x2="668.80" y2="1205.60" stroke="#000" stroke-width="2.3" />
<line x1="668.80" y1="1268.50" x2="668.80" y2="1366.00" stroke="#000" stroke-width="2.3" />
<line x1="664.20" y1="1144.60" x2="673.40" y2="1144.60" stroke="#000" stroke-width="2.3" />
<line x1="664.20" y1="1366.00" x2="673.40" y2="1366.00" stroke="#000" stroke-width="2.3" />
<polygon points="660.00,1269.50 660.00,1268.00 663.90,1251.00 660.00,1230.00 660.00,1204.60 677.60,1204.60 677.60,1230.00 673.70,1251.00 677.60,1268.00 677.60,1269.50" fill="#000080"/>
<rect x="663.90" y="1247.20" width="9.80" height="7.60" fill="#fff" stroke="none" stroke-width="0" />
<line x1="689.80" y1="1201.60" x2="689.80" y2="1242.00" stroke="#000" stroke-width="2.3" />
<line x1="689.80" y1="1279.60" x2="689.80" y2="1334.90" stroke="#000" stroke-width="2.3" />
<line x1="685.20" y1="1201.60" x2="694.40" y2="1201.60" stroke="#000" stroke-width="2.3" />
<line x1="685.20" y1="1334.90" x2="694.40" y2="1334.90" stroke="#000" stroke-width="2.3" />
<polygon points="681.00,1280.60 681.00,1272.00 684.90,1260.00 681.00,1250.00 681.00,1241.00 698.60,1241.00 698.60,1250.00 694.70,1260.00 698.60,1272.00 698.60,1280.60" fill="#8080ff"/>
<rect x="684.90" y="1256.20" width="9.80" height="7.60" fill="#fff" stroke="none" stroke-width="0" />
<circle cx="689.80" cy="1117.00" r="3.3" fill="#000"/>
<line x1="808.60" y1="1195.20" x2="808.60" y2="1260.60" stroke="#000" stroke-width="2.3" />
<line x1="808.60" y1="1296.40" x2="808.60" y2="1389.60" stroke="#000" stroke-width="2.3" />
<line x1="804.00" y1="1195.20" x2="813.20" y2="1195.20" stroke="#000" stroke-width="2.3" />
<line x1="804.00" y1="1389.60" x2="813.20" y2="1389.60" stroke="#000" stroke-width="2.3" />
<polygon points="799.80,1297.40 799.80,1288.00 803.70,1275.60 799.80,1266.00 799.80,1259.60 817.40,1259.60 817.40,1266.00 813.50,1275.60 817.40,1288.00 817.40,1297.40" fill="#008000"/>
<rect x="803.70" y="1271.80" width="9.80" height="7.60" fill="#fff" stroke="none" stroke-width="0" />
<line x1="829.60" y1="1142.20" x2="829.60" y2="1239.00" stroke="#000" stroke-width="2.3" />
<line x1="829.60" y1="1303.40" x2="829.60" y2="1446.60" stroke="#000" stroke-width="2.3" />
<line x1="825.00" y1="1142.20" x2="834.20" y2="1142.20" stroke="#000" stroke-width="2.3" />
<line x1="825.00" y1="1446.60" x2="834.20" y2="1446.60" stroke="#000" stroke-width="2.3" />
<polygon points="820.80,1304.40 820.80,1284.00 824.70,1265.00 820.80,1248.00 820.80,1238.00 838.40,1238.00 838.40,1248.00 834.50,1265.00 838.40,1284.00 838.40,1304.40" fill="#80ff80"/>
<rect x="824.70" y="1261.20" width="9.80" height="7.60" fill="#fff" stroke="none" stroke-width="0" />
<line x1="878.60" y1="1188.80" x2="878.60" y2="1257.00" stroke="#000" stroke-width="2.3" />
<line x1="878.60" y1="1316.60" x2="878.60" y2="1376.70" stroke="#000" stroke-width="2.3" />
<line x1="874.00" y1="1188.80" x2="883.20" y2="1188.80" stroke="#000" stroke-width="2.3" />
<line x1="874.00" y1="1376.70" x2="883.20" y2="1376.70" stroke="#000" stroke-width="2.3" />
<polygon points="869.80,1317.60 869.80,1306.00 873.70,1287.60 869.80,1269.00 869.80,1256.00 887.40,1256.00 887.40,1269.00 883.50,1287.60 887.40,1306.00 887.40,1317.60" fill="#008000"/>
<rect x="873.70" y="1283.80" width="9.80" height="7.60" fill="#fff" stroke="none" stroke-width="0" />
<line x1="899.60" y1="1175.80" x2="899.60" y2="1269.00" stroke="#000" stroke-width="2.3" />
<line x1="899.60" y1="1313.00" x2="899.60" y2="1407.00" stroke="#000" stroke-width="2.3" />
<line x1="895.00" y1="1175.80" x2="904.20" y2="1175.80" stroke="#000" stroke-width="2.3" />
<line x1="895.00" y1="1407.00" x2="904.20" y2="1407.00" stroke="#000" stroke-width="2.3" />
<polygon points="890.80,1314.00 890.80,1303.00 894.70,1290.40 890.80,1278.00 890.80,1268.00 908.40,1268.00 908.40,1278.00 904.50,1290.40 908.40,1303.00 908.40,1314.00" fill="#80ff80"/>
<rect x="894.70" y="1286.60" width="9.80" height="7.60" fill="#fff" stroke="none" stroke-width="0" />
<line x1="948.50" y1="1242.40" x2="948.50" y2="1277.40" stroke="#000" stroke-width="2.3" />
<line x1="948.50" y1="1294.00" x2="948.50" y2="1328.60" stroke="#000" stroke-width="2.3" />
<line x1="943.90" y1="1242.40" x2="953.10" y2="1242.40" stroke="#000" stroke-width="2.3" />
<line x1="943.90" y1="1328.60" x2="953.10" y2="1328.60" stroke="#000" stroke-width="2.3" />
<polygon points="939.70,1295.00 939.70,1289.50 943.60,1283.60 939.70,1278.60 939.70,1276.40 957.30,1276.40 957.30,1278.60 953.40,1283.60 957.30,1289.50 957.30,1295.00" fill="#008000"/>
<rect x="943.60" y="1279.80" width="9.80" height="7.60" fill="#fff" stroke="none" stroke-width="0" />
<line x1="969.60" y1="1228.00" x2="969.60" y2="1267.40" stroke="#000" stroke-width="2.3" />
<line x1="969.60" y1="1284.40" x2="969.60" y2="1321.00" stroke="#000" stroke-width="2.3" />
<line x1="965.00" y1="1228.00" x2="974.20" y2="1228.00" stroke="#000" stroke-width="2.3" />
<line x1="965.00" y1="1321.00" x2="974.20" y2="1321.00" stroke="#000" stroke-width="2.3" />
<polygon points="961.58,1285.40 964.70,1279.00 960.80,1271.00 960.80,1266.40 978.40,1266.40 978.40,1271.00 974.50,1279.00 977.62,1285.40" fill="#80ff80"/>
<rect x="964.70" y="1275.20" width="9.80" height="7.60" fill="#fff" stroke="none" stroke-width="0" />
<circle cx="969.60" cy="1073.40" r="3.3" fill="#000"/>
<circle cx="969.60" cy="1144.60" r="3.3" fill="#000"/>
<line x1="1018.50" y1="1116.00" x2="1018.50" y2="1243.00" stroke="#000" stroke-width="2.3" />
<line x1="1018.50" y1="1328.60" x2="1018.50" y2="1406.60" stroke="#000" stroke-width="2.3" />
<line x1="1013.90" y1="1116.00" x2="1023.10" y2="1116.00" stroke="#000" stroke-width="2.3" />
<line x1="1013.90" y1="1406.60" x2="1023.10" y2="1406.60" stroke="#000" stroke-width="2.3" />
<polygon points="1009.70,1329.60 1009.70,1302.00 1013.60,1276.00 1009.70,1254.00 1009.70,1242.00 1027.30,1242.00 1027.30,1254.00 1023.40,1276.00 1027.30,1302.00 1027.30,1329.60" fill="#008000"/>
<rect x="1013.60" y="1272.20" width="9.80" height="7.60" fill="#fff" stroke="none" stroke-width="0" />
<line x1="1039.50" y1="1211.20" x2="1039.50" y2="1257.60" stroke="#000" stroke-width="2.3" />
<line x1="1039.50" y1="1329.60" x2="1039.50" y2="1432.80" stroke="#000" stroke-width="2.3" />
<line x1="1034.90" y1="1211.20" x2="1044.10" y2="1211.20" stroke="#000" stroke-width="2.3" />
<line x1="1034.90" y1="1432.80" x2="1044.10" y2="1432.80" stroke="#000" stroke-width="2.3" />
<polygon points="1030.70,1330.60 1030.70,1314.00 1034.60,1293.00 1030.70,1270.00 1030.70,1256.60 1048.30,1256.60 1048.30,1270.00 1044.40,1293.00 1048.30,1314.00 1048.30,1330.60" fill="#80ff80"/>
<rect x="1034.60" y="1289.20" width="9.80" height="7.60" fill="#fff" stroke="none" stroke-width="0" />
<line x1="1088.60" y1="1212.00" x2="1088.60" y2="1267.00" stroke="#000" stroke-width="2.3" />
<line x1="1088.60" y1="1291.00" x2="1088.60" y2="1307.80" stroke="#000" stroke-width="2.3" />
<line x1="1084.00" y1="1212.00" x2="1093.20" y2="1212.00" stroke="#000" stroke-width="2.3" />
<line x1="1084.00" y1="1307.80" x2="1093.20" y2="1307.80" stroke="#000" stroke-width="2.3" />
<polygon points="1079.80,1292.00 1079.80,1287.00 1083.70,1280.00 1079.80,1272.00 1079.80,1266.00 1097.40,1266.00 1097.40,1272.00 1093.50,1280.00 1097.40,1287.00 1097.40,1292.00" fill="#008000"/>
<rect x="1083.70" y="1276.20" width="9.80" height="7.60" fill="#fff" stroke="none" stroke-width="0" />
<line x1="1109.60" y1="1221.20" x2="1109.60" y2="1263.00" stroke="#000" stroke-width="2.3" />
<line x1="1109.60" y1="1287.60" x2="1109.60" y2="1329.90" stroke="#000" stroke-width="2.3" />
<line x1="1105.00" y1="1221.20" x2="1114.20" y2="1221.20" stroke="#000" stroke-width="2.3" />
<line x1="1105.00" y1="1329.90" x2="1114.20" y2="1329.90" stroke="#000" stroke-width="2.3" />
<polygon points="1100.80,1288.60 1100.80,1288.00 1104.70,1278.00 1100.80,1270.00 1100.80,1262.00 1118.40,1262.00 1118.40,1270.00 1114.50,1278.00 1118.40,1288.00 1118.40,1288.60" fill="#80ff80"/>
<rect x="1104.70" y="1274.20" width="9.80" height="7.60" fill="#fff" stroke="none" stroke-width="0" />
<text x="680.30" y="1107.80" font-size="44.5" text-anchor="middle" fill="#8c8c8c" font-weight="bold" >*</text>
<line x1="666.00" y1="1104.40" x2="693.00" y2="1104.40" stroke="#262626" stroke-width="2" />
<text x="960.00" y="1193.80" font-size="44.5" text-anchor="middle" fill="#8c8c8c" font-weight="bold" >*</text>
<line x1="946.00" y1="1190.40" x2="972.60" y2="1190.40" stroke="#262626" stroke-width="2" />
<rect x="115.60" y="985.00" width="26.00" height="26.20" fill="#800000" stroke="none" stroke-width="0" />
<rect x="144.80" y="985.00" width="26.00" height="26.20" fill="#000080" stroke="none" stroke-width="0" />
<rect x="174.00" y="985.00" width="26.00" height="26.20" fill="#008000" stroke="none" stroke-width="0" />
<rect x="115.60" y="1032.00" width="26.00" height="26.00" fill="#ff8080" stroke="none" stroke-width="0" />
<rect x="144.80" y="1032.00" width="26.00" height="26.00" fill="#8080ff" stroke="none" stroke-width="0" />
<rect x="174.00" y="1032.00" width="26.00" height="26.00" fill="#80ff80" stroke="none" stroke-width="0" />
<text x="213.40" y="1006.40" font-size="30" text-anchor="start" fill="#262626" font-weight="normal" stroke="#262626" stroke-width="0.3" >value difference +1 or -1</text>
<text x="213.40" y="1052.00" font-size="30" text-anchor="start" fill="#262626" font-weight="normal" stroke="#262626" stroke-width="0.3" >value difference 0</text>
<text x="811.00" y="1548.00" font-size="70" text-anchor="middle" fill="#000" font-weight="bold" >*</text>
<text x="833.80" y="1519.60" font-size="30.1" text-anchor="start" fill="#262626" font-weight="normal" stroke="#262626" stroke-width="0.3" >p&lt;0.05 corrected</text>
<text x="811.00" y="1594.50" font-size="70" text-anchor="middle" fill="#8c8c8c" font-weight="bold" >*</text>
<text x="833.80" y="1568.60" font-size="30.1" text-anchor="start" fill="#262626" font-weight="normal" stroke="#262626" stroke-width="0.3" >p&lt;0.05 uncorrected</text>
<line x1="189.00" y1="1601.00" x2="189.00" y2="1613.00" stroke="#1a1a1a" stroke-width="2" />
<text x="204.90" y="1644.40" font-size="30.9" text-anchor="end" fill="#262626" font-weight="normal" stroke="#262626" stroke-width="0.3" transform="rotate(-60 204.90 1644.40)" >Early NVE1</text>
<line x1="259.00" y1="1601.00" x2="259.00" y2="1613.00" stroke="#1a1a1a" stroke-width="2" />
<text x="273.40" y="1645.20" font-size="30.9" text-anchor="end" fill="#262626" font-weight="normal" stroke="#262626" stroke-width="0.3" transform="rotate(-60 273.40 1645.20)" >Late NVE1</text>
<line x1="329.00" y1="1601.00" x2="329.00" y2="1613.00" stroke="#1a1a1a" stroke-width="2" />
<text x="341.80" y="1645.50" font-size="30.9" text-anchor="end" fill="#262626" font-weight="normal" stroke="#262626" stroke-width="0.3" transform="rotate(-60 341.80 1645.50)" >Late NVE2</text>
<line x1="468.80" y1="1601.00" x2="468.80" y2="1613.00" stroke="#1a1a1a" stroke-width="2" />
<text x="490.80" y="1645.00" font-size="30.9" text-anchor="end" fill="#262626" font-weight="normal" stroke="#262626" stroke-width="0.3" transform="rotate(-60 490.80 1645.00)" >Chooses left</text>
<line x1="538.60" y1="1601.00" x2="538.60" y2="1613.00" stroke="#1a1a1a" stroke-width="2" />
<text x="549.60" y="1646.30" font-size="30.9" text-anchor="end" fill="#262626" font-weight="normal" stroke="#262626" stroke-width="0.3" transform="rotate(-60 549.60 1646.30)" >Looks left first</text>
<line x1="609.50" y1="1601.00" x2="609.50" y2="1613.00" stroke="#1a1a1a" stroke-width="2" />
<text x="620.10" y="1646.10" font-size="30.9" text-anchor="end" fill="#262626" font-weight="normal" stroke="#262626" stroke-width="0.3" transform="rotate(-60 620.10 1646.10)" >Chosen value</text>
<line x1="678.60" y1="1601.00" x2="678.60" y2="1613.00" stroke="#1a1a1a" stroke-width="2" />
<text x="690.40" y="1646.10" font-size="30.9" text-anchor="end" fill="#262626" font-weight="normal" stroke="#262626" stroke-width="0.3" transform="rotate(-60 690.40 1646.10)" >Max value</text>
<line x1="818.60" y1="1601.00" x2="818.60" y2="1613.00" stroke="#1a1a1a" stroke-width="2" />
<text x="827.10" y="1647.00" font-size="30.9" text-anchor="end" fill="#262626" font-weight="normal" stroke="#262626" stroke-width="0.3" transform="rotate(-60 827.10 1647.00)" >Prev. chose 1st</text>
<line x1="889.00" y1="1601.00" x2="889.00" y2="1613.00" stroke="#1a1a1a" stroke-width="2" />
<text x="907.60" y="1647.80" font-size="30.9" text-anchor="end" fill="#262626" font-weight="normal" stroke="#262626" stroke-width="0.3" transform="rotate(-60 907.60 1647.80)" >Prev. chose left</text>
<line x1="959.00" y1="1601.00" x2="959.00" y2="1613.00" stroke="#1a1a1a" stroke-width="2" />
<text x="975.80" y="1648.30" font-size="30.9" text-anchor="end" fill="#262626" font-weight="normal" stroke="#262626" stroke-width="0.3" transform="rotate(-60 975.80 1648.30)" >Prev. chosen val</text>
<line x1="1029.00" y1="1601.00" x2="1029.00" y2="1613.00" stroke="#1a1a1a" stroke-width="2" />
<text x="1035.60" y="1648.30" font-size="30.9" text-anchor="end" fill="#262626" font-weight="normal" stroke="#262626" stroke-width="0.3" transform="rotate(-60 1035.60 1648.30)" >Prev. was best</text>
<line x1="1099.00" y1="1601.00" x2="1099.00" y2="1613.00" stroke="#1a1a1a" stroke-width="2" />
<text x="1109.00" y="1646.50" font-size="30.9" text-anchor="end" fill="#262626" font-weight="normal" stroke="#262626" stroke-width="0.3" transform="rotate(-60 1109.00 1646.50)" >Trial num</text>
</g>
</svg>
</body>
</html>
